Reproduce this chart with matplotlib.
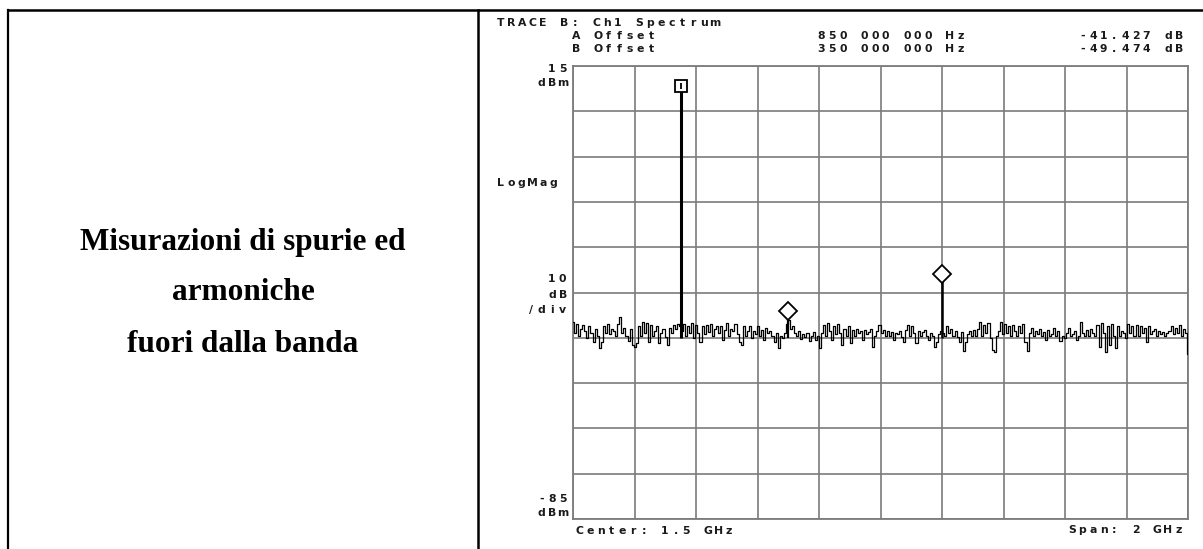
import matplotlib
matplotlib.use("Agg")
import matplotlib.pyplot as plt
import numpy as np

# ── Data ────────────────────────────────────────────────────────
F_START, F_STOP = 0.5, 2.5          # GHz  (center 1.5, span 2)
REF_TOP, REF_BOT = 15, -85          # dBm, 10 dB/div
FLOOR_DBM = -45.0

# noise trace, dB above/below the floor, one list per horizontal division
DIV1 = [3.5, 1.0, 3.0, 0.5, 2.0, 2.8, 1.5, 0.0, 2.5, 1.0, -1.0, 2.0, 0.5, -2.2, -1.0,
        2.5, 1.0, 3.0, 0.8, 2.0, 1.5, 0.5, 3.0, 4.6, 1.0, 2.2, 0.3, -0.8, 2.0, -1.5]
DIV2 = [-2.0, -1.2, 2.5, 0.5, 3.5, 1.0, 3.2, -1.0, 2.8, 0.5, 1.5, 2.5, -1.2, 1.0, 2.0,
        0.2, -1.5, 2.2, 1.0, 2.8, 2.0, 3.0, 2.5, 1.5, 3.0, 0.5, 2.6, 1.0, 3.2, 0.0]
DIV3 = [2.8, 1.0, -1.0, 2.5, 0.8, 2.8, 1.2, 3.0, 0.5, 2.0, 2.6, 1.0, 2.5, -0.5, 1.8,
        3.2, 0.5, 2.0, 1.5, 3.0, 0.8, -1.0, -1.5, 2.5, 0.5, 1.5, 2.5, 0.0, 1.5, 0.8]
DIV4 = [2.5, 0.5, 1.8, -0.5, 2.2, 1.0, 1.5, 0.3, -1.0, 1.0, -2.2, 0.5, 0.0, 1.0, 3.0,
        4.0, 2.0, 2.5, 1.0, 0.5, 1.5, -0.3, 0.8, 0.2, 1.0, -0.8, 0.5, 1.2, -0.5, 0.3]
DIV5 = [-2.2, 1.0, 2.8, 0.5, 3.2, 1.5, -0.5, 2.5, 0.8, 3.0, 1.0, -1.5, 2.0, 0.5, 2.6,
        -1.2, 1.8, 0.5, 2.0, 1.0, 1.5, -0.5, 1.8, 0.8, 1.2, 2.0, -2.0, 0.5, 1.5, 2.8]
DIV6 = [1.0, 1.8, 0.3, 1.5, 0.5, 1.2, -0.5, 1.0, 0.8, 1.5, 0.2, -1.0, 1.8, 2.8, 0.5,
        2.5, 1.0, -1.2, 1.5, 0.3, 1.2, 1.8, 0.5, -0.5, 1.0, 0.3, -2.0, -1.0, 0.8, 1.5]
DIV7 = [1.0, 0.5, 2.5, 1.0, 2.0, 0.5, 1.5, 0.2, -1.0, 1.2, -3.0, -1.0, 0.8, 1.5, 0.5,
        1.8, 0.3, 2.0, 3.5, 0.5, 2.8, 1.0, 3.2, 0.0, -2.8, -3.2, 0.5, 1.5, 3.5, 0.8]
DIV8 = [3.0, 1.0, 2.5, 0.5, 2.8, 1.5, 0.3, 2.5, 1.0, 3.0, -1.0, -3.0, 1.0, 2.2, 0.5,
        1.5, 0.8, 2.0, 0.5, 1.2, -0.5, 1.8, 0.3, 0.8, 2.2, 0.5, 1.5, -0.8, 0.5, 0.0]
DIV9 = [1.0, 2.2, 0.3, 0.8, 1.5, -0.5, 0.5, 3.5, 1.0, 0.5, 1.8, 0.3, 2.0, 1.0, 0.5,
        2.8, -2.0, 3.2, 1.0, -3.2, 2.5, -1.5, 3.0, 0.5, -2.2, 2.5, 0.5, 1.5, 1.0, 0.0]
DIV10 = [3.0, 1.0, 2.5, 0.5, 2.8, 0.3, 2.5, 1.0, 2.2, -1.0, 2.5, 0.8, 1.5, 2.0, 0.5,
         1.5, 0.8, 1.2, 0.3, 1.0, 1.5, 2.5, 0.8, 2.2, 1.0, 2.8, 0.5, 2.0, 1.0, -3.5]

# carrier, spur (marker B) and 2nd harmonic (marker A)
PEAK_GHZ = [0.85, 1.2, 1.7]
PEAK_DBM = [10.5, -39.0, -30.9]
PEAK_MARK = ["s", "D", "D"]

HEADER = [
    ("TRACE B: Ch1 Spectrum", 495, 23.5, "left"),
    ("A Offset", 571, 36.0, "left"),
    ("B Offset", 571, 49.0, "left"),
    ("850 000 000 Hz", 816, 36.0, "left"),
    ("350 000 000 Hz", 816, 49.0, "left"),
    ("-41.427 dB", 1184, 36.0, "right"),
    ("-49.474 dB", 1184, 49.0, "right"),
    ("15", 568, 69.5, "right"),
    ("dBm", 568, 82.5, "right"),
    ("LogMag", 495, 183.0, "left"),
    ("10", 568, 279.0, "right"),
    ("dB", 568, 295.0, "right"),
    ("/div", 568, 310.0, "right"),
    ("-85", 568, 499.0, "right"),
    ("dBm", 568, 513.5, "right"),
    ("Center: 1.5 GHz", 574, 531.0, "left"),
    ("Span: 2 GHz", 1184, 530.0, "right"),
]

LEFT_LINES = ["Misurazioni di spurie ed", "armoniche", "fuori dalla banda"]
LEFT_BASE = [250, 300, 352]

W, H = 1203, 549
GRID_C = "#7c7c7c"


def mono(ax, s, x, y, align, pitch=10.7, size=7.8):
    # instrument font is a wide fixed-pitch one, so place glyph by glyph
    if align == "right":
        x = x - len(s) * pitch
    for i, ch in enumerate(s):
        if ch == " ":
            continue
        ax.text(x + (i + 0.5) * pitch, y, ch, ha="center", va="center",
                family="DejaVu Sans", fontweight="bold", fontsize=size,
                color="#1a1a1a")


fig = plt.figure(figsize=(W / 100, H / 100), dpi=100)

# ── page / table frame in pixel coords ──────────────────────────
bg = fig.add_axes([0, 0, 1, 1])
bg.set_xlim(0, W)
bg.set_ylim(H, 0)
bg.axis("off")
bg.plot([8, W], [10, 10], color="black", lw=1.8)
bg.plot([8, 8], [10, H], color="black", lw=1.6)
bg.plot([478, 478], [10, H], color="black", lw=1.8)

for line, yb in zip(LEFT_LINES, LEFT_BASE):
    bg.text(243, yb, line, ha="center", va="baseline",
            family="Liberation Serif", fontweight="bold", fontsize=22.5)

for s, x, y, al in HEADER:
    mono(bg, s, x, y, al)

# ── analyzer graticule ──────────────────────────────────────────
gx0, gx1, gy0, gy1 = 573, 1188, 66, 519
ax = fig.add_axes([gx0 / W, (H - gy1) / H, (gx1 - gx0) / W, (gy1 - gy0) / H])
ax.set_xlim(F_START, F_STOP)
ax.set_ylim(REF_BOT, REF_TOP)
ax.set_xticks(np.linspace(F_START, F_STOP, 11))
ax.set_yticks(np.arange(REF_BOT, REF_TOP + 1, 10))
ax.tick_params(length=0, labelbottom=False, labelleft=False)
ax.grid(True, color=GRID_C, lw=1.2)
for sp in ax.spines.values():
    sp.set_color(GRID_C)
    sp.set_linewidth(1.3)

offsets = DIV1 + DIV2 + DIV3 + DIV4 + DIV5 + DIV6 + DIV7 + DIV8 + DIV9 + DIV10
trace = FLOOR_DBM + np.array(offsets)
freq = np.linspace(F_START, F_STOP, len(trace))
ax.plot(freq, trace, drawstyle="steps-mid", color="black", lw=0.9, zorder=3)

ax.vlines(PEAK_GHZ, FLOOR_DBM, PEAK_DBM, colors="black",
          linewidths=[2.2, 1.6, 1.8], zorder=4)
for f, p, m in zip(PEAK_GHZ, PEAK_DBM, PEAK_MARK):
    ms = 8.6 if m == "s" else 9.5
    ax.plot(f, p, marker=m, ms=ms, mfc="white", mec="black", mew=1.3,
            zorder=5, clip_on=False)
    if m == "s":
        ax.plot(f, p, marker="|", ms=5, mec="black", mew=1.3, zorder=6)

fig.savefig("out.png", dpi=100, facecolor="white")
